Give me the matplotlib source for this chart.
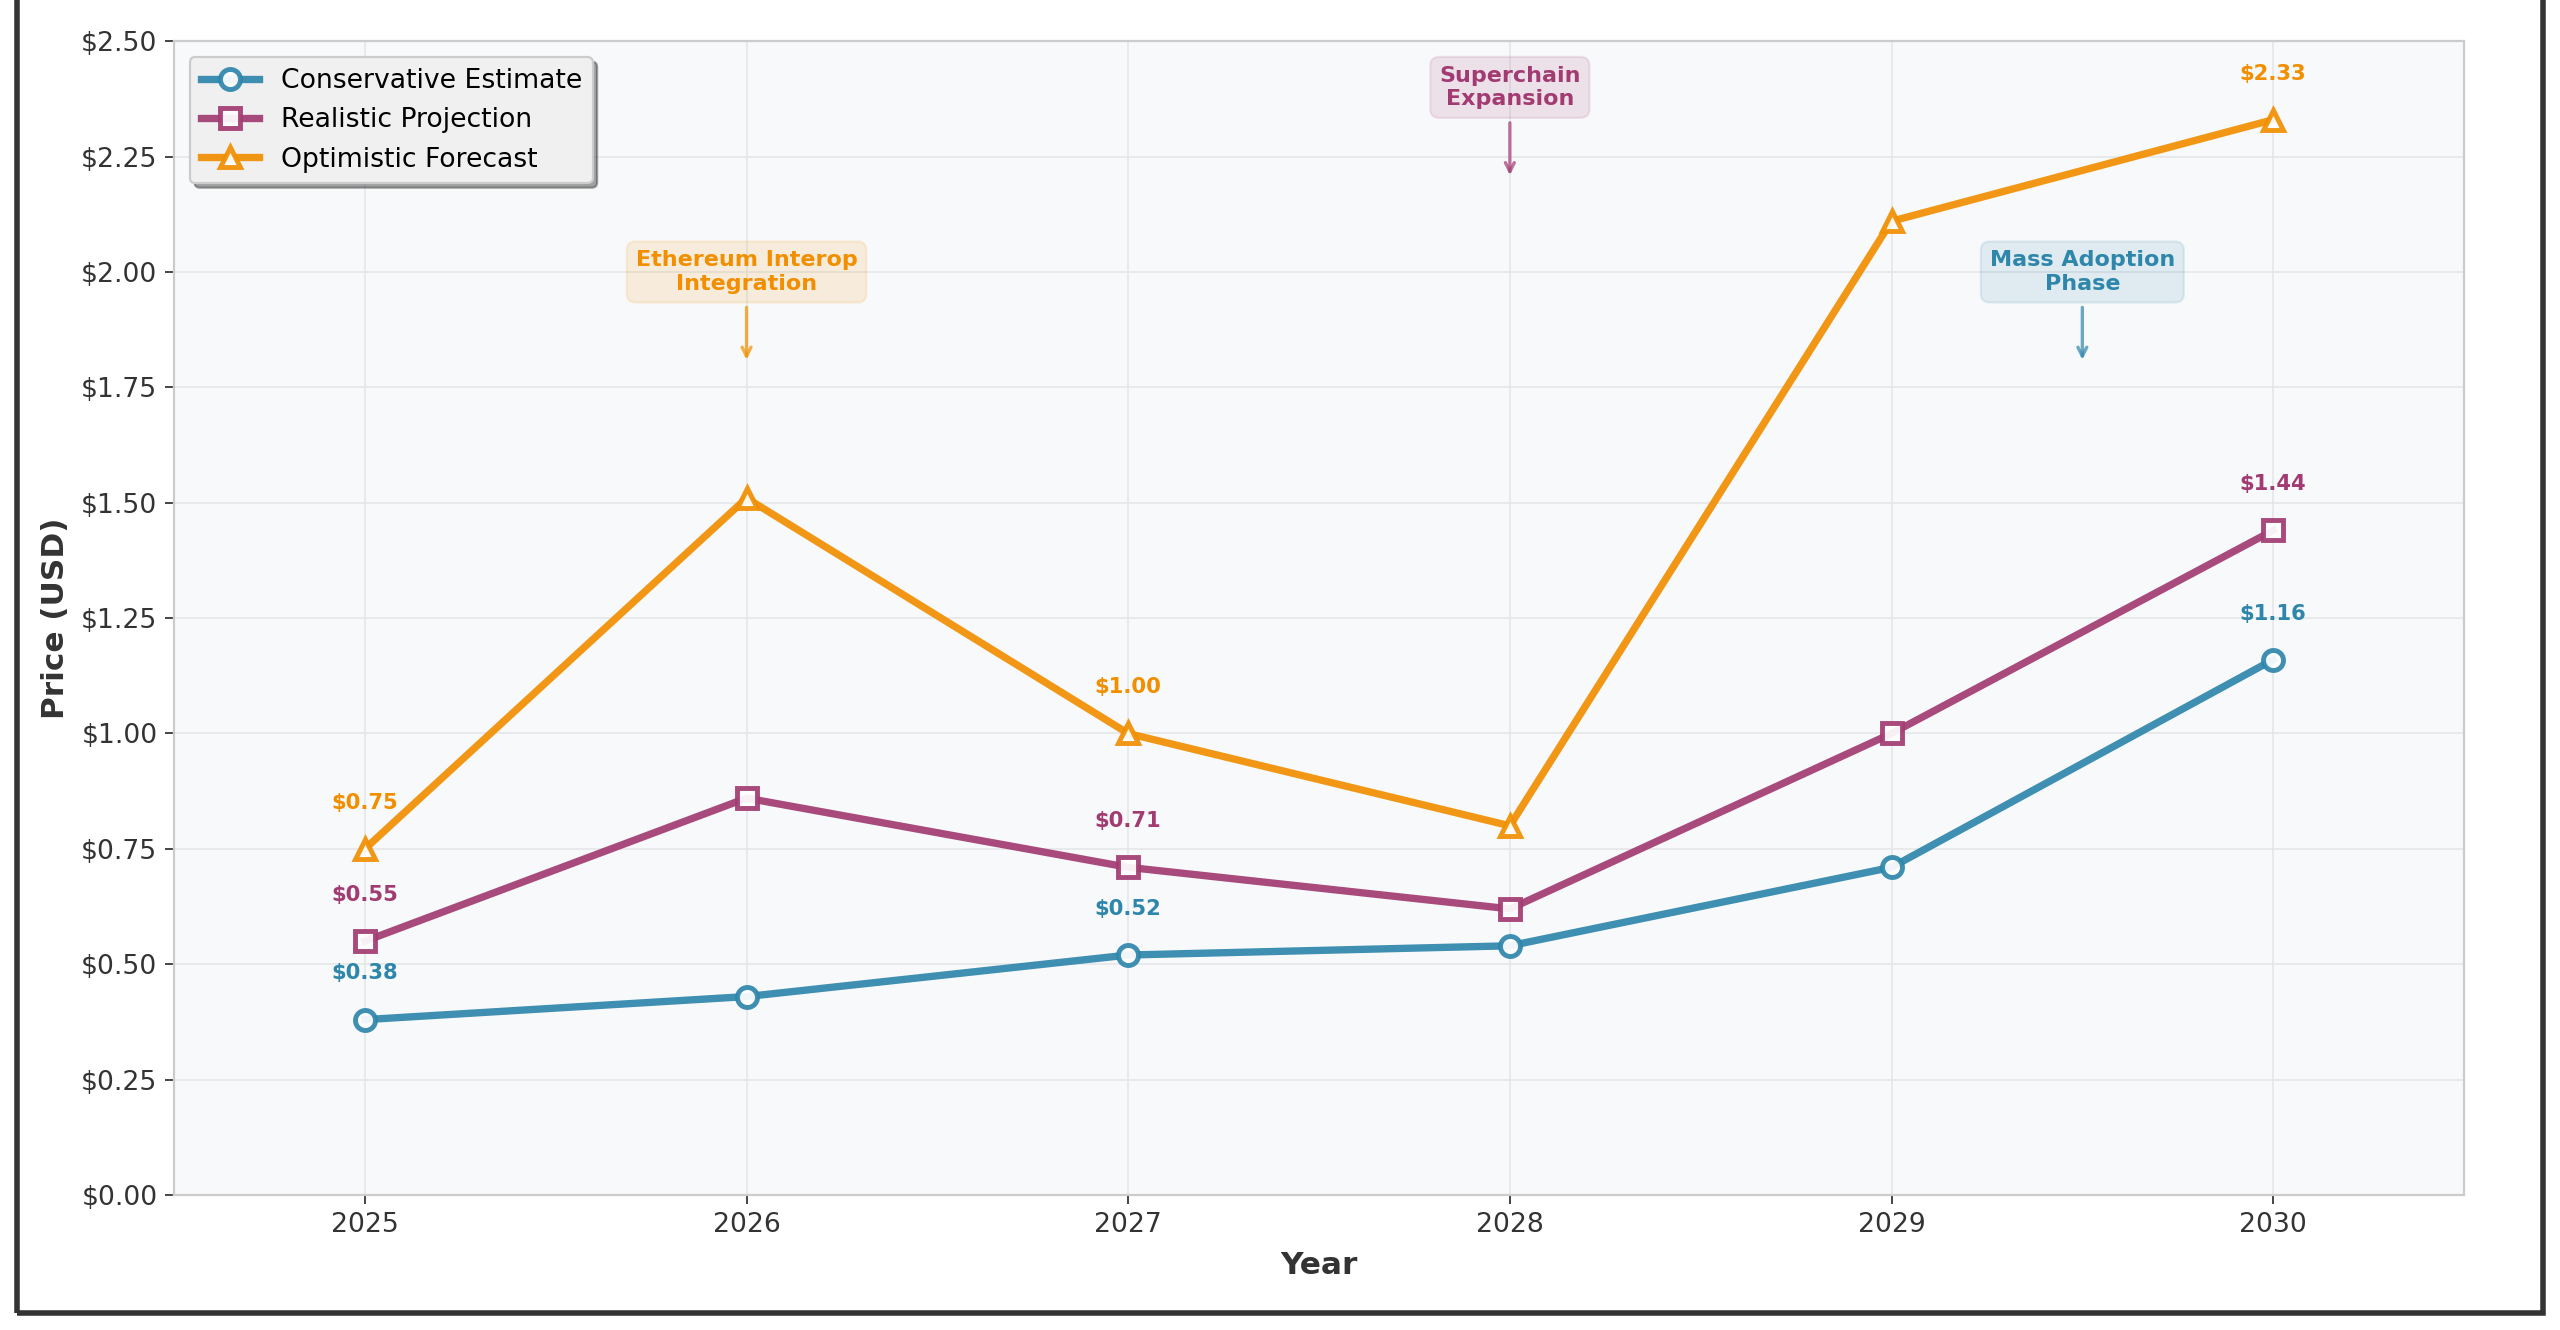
import numpy as np
import matplotlib
matplotlib.use("Agg")
from matplotlib import pyplot as plt
from matplotlib.patches import Rectangle
from matplotlib.ticker import FuncFormatter

# Data
years = [2025, 2026, 2027, 2028, 2029, 2030]
conservative = [0.38, 0.43, 0.52, 0.54, 0.71, 1.16]
realistic = [0.55, 0.86, 0.71, 0.62, 1.00, 1.44]
optimistic = [0.75, 1.51, 1.00, 0.80, 2.11, 2.33]
series_names = ["Conservative Estimate", "Realistic Projection", "Optimistic Forecast"]
labelled_idx = [0, 2, 5]

events = ["Ethereum Interop\nIntegration", "Superchain\nExpansion", "Mass Adoption\nPhase"]
event_x = [2026, 2028, 2029.5]
event_text_y = [2.0, 2.4, 2.0]
event_tip_y = [1.8, 2.2, 1.8]

colors = ["#2E86AB", "#A23B72", "#F18F01"]
markers = ["o", "s", "^"]
event_colors = ["#F18F01", "#A23B72", "#2E86AB"]

plt.rcParams["font.family"] = ["DejaVu Sans"]

fig = plt.figure(figsize=(16, 8.3125), dpi=160)
ax = fig.add_axes([0.068, 0.1015, 0.8945, 0.8675])
ax.set_facecolor("#F8F9FA")

for vals, name, c, m in zip([conservative, realistic, optimistic], series_names, colors, markers):
    ax.plot(years, vals, color=c, marker=m, lw=3.3, markersize=9, alpha=0.92,
            markerfacecolor="white", markeredgecolor=c, markeredgewidth=2.2,
            label=name, zorder=3)
    for i in labelled_idx:
        ax.text(years[i], vals[i] + 0.1, f"${vals[i]:.2f}", color=c,
                fontsize=9.5, fontweight="bold", ha="center", va="center")

for txt, x, ty, tip, c in zip(events, event_x, event_text_y, event_tip_y, event_colors):
    ax.annotate(txt, xy=(x, tip), xytext=(x, ty), ha="center", va="center",
                fontsize=10, fontweight="bold", color=c,
                bbox=dict(boxstyle="round,pad=0.4", facecolor=c, alpha=0.12,
                          edgecolor=c),
                arrowprops=dict(arrowstyle="->", color=c, alpha=0.7, lw=1.5))

ax.set_xlim(2024.5, 2030.5)
ax.set_ylim(0, 2.5)
ax.set_xticks(years)
ax.set_yticks(np.arange(0, 2.51, 0.25))
ax.yaxis.set_major_formatter(FuncFormatter(lambda v, p: f"${v:.2f}"))
ax.tick_params(labelsize=12, colors="#333333", length=4, width=0.8)
ax.grid(True, color="#E4E6E8", lw=0.8, alpha=0.9)
ax.set_axisbelow(True)
for s in ax.spines.values():
    s.set_color("#CCCCCC")
    s.set_linewidth(1.0)

ax.set_xlabel("Year", fontsize=14, fontweight="bold", color="#333333", labelpad=6)
ax.set_ylabel("Price (USD)", fontsize=14, fontweight="bold", color="#333333", labelpad=5)

leg = ax.legend(loc="upper left", fontsize=12, frameon=True, fancybox=True,
                shadow=True, facecolor="#F0F0F0", edgecolor="#CCCCCC",
                framealpha=1.0, handlelength=2.2, borderaxespad=0.6)

# Outer frame
fig.patches.append(Rectangle((0.0065, 0.0125), 0.987, 1.2, transform=fig.transFigure,
                             fill=False, edgecolor="#333333", lw=2.5, zorder=10))

fig.savefig("out.png", dpi=160, facecolor="white")
